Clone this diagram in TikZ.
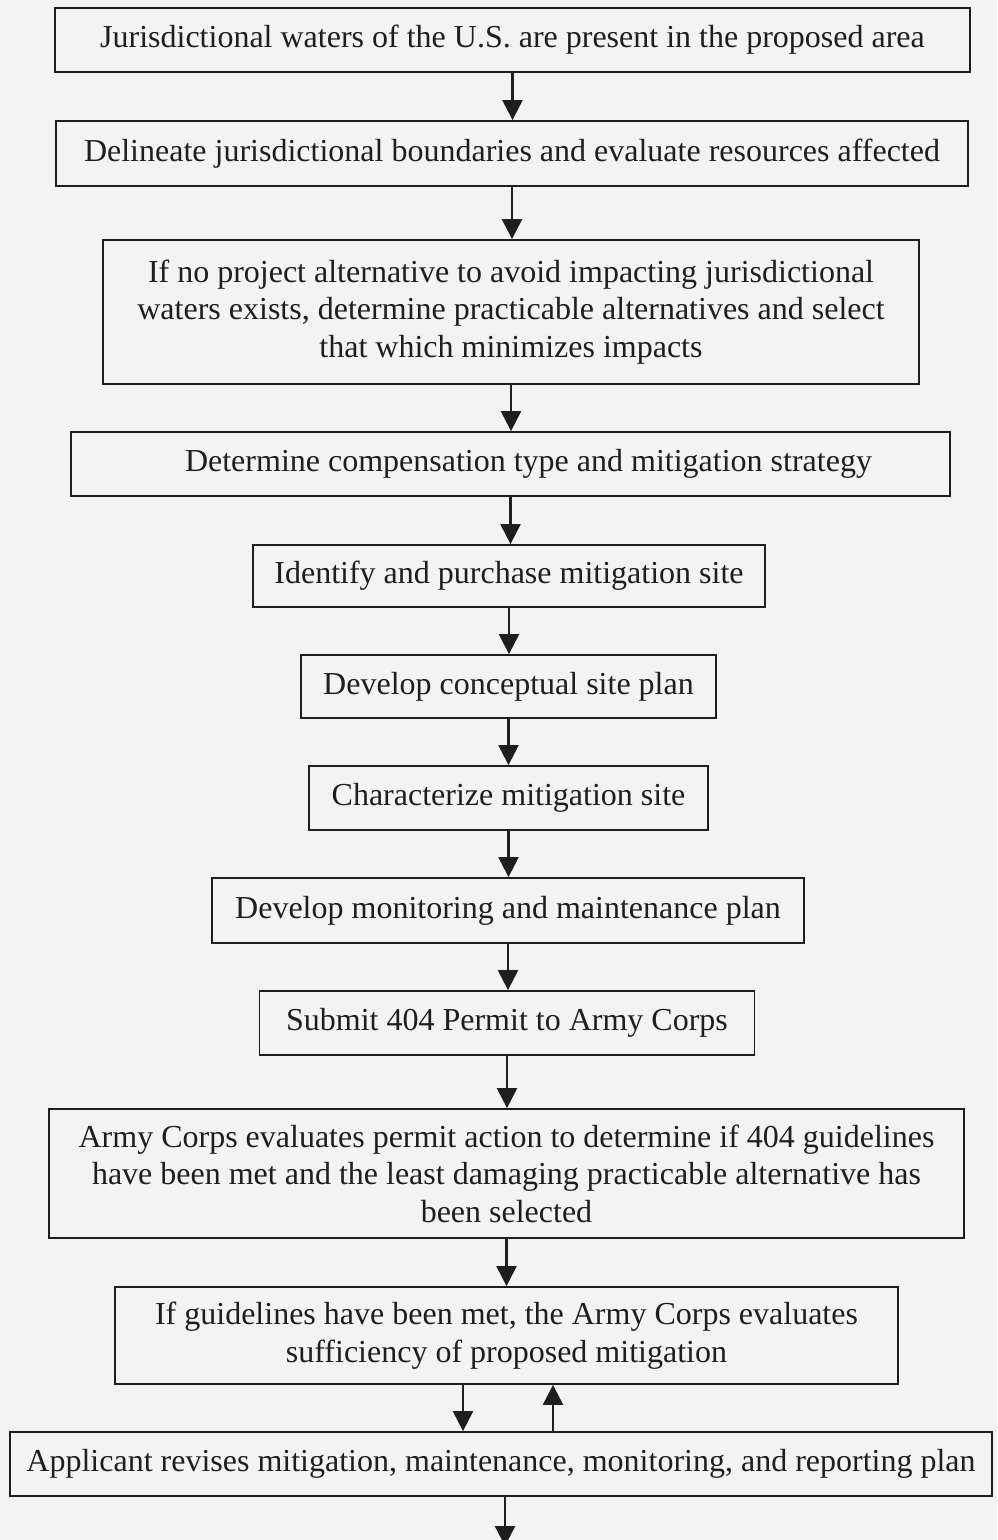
\documentclass[tikz,border=0pt]{standalone}
\usepackage{fontspec}
\setmainfont{Liberation Serif}
\usetikzlibrary{arrows.meta}
\definecolor{paper}{RGB}{243,243,243}
\definecolor{ink}{RGB}{30,30,30}
\begin{document}
\begin{tikzpicture}[x=1pt,y=-1pt,
  stepbox/.style={draw=ink,line width=1.8pt,inner sep=0pt,align=center,
    font=\fontsize{32}{37.5}\selectfont,text=ink},
  arr/.style={draw=ink,line width=2.2pt,-{Triangle[width=20pt,length=20pt]}}]
\fill[paper] (0,0) rectangle (997,1540);
\useasboundingbox (0,0) rectangle (997,1540);
\clip (0,0) rectangle (997,1540);
\node[stepbox,minimum width=915pt,minimum height=64pt] (n1) at (512.5,40)
  {Jurisdictional waters of the U.S. are present in the proposed area};
\node[stepbox,minimum width=912pt,minimum height=65pt] (n2) at (512,153.5)
  {Delineate jurisdictional boundaries and evaluate resources affected};
\node[stepbox,minimum width=816pt,minimum height=144pt] (n3) at (511,312)
  {If no project alternative to avoid impacting jurisdictional\\waters exists, determine practicable alternatives and select\\that which minimizes impacts};
\node[stepbox,minimum width=879pt,minimum height=64pt] (n4) at (510.5,464)
  {\hspace*{36pt}Determine compensation type and mitigation strategy};
\node[stepbox,minimum width=512pt,minimum height=62pt] (n5) at (509,576)
  {Identify and purchase mitigation site};
\node[stepbox,minimum width=415pt,minimum height=63pt] (n6) at (508.5,686.5)
  {Develop conceptual site plan};
\node[stepbox,minimum width=399pt,minimum height=64pt] (n7) at (508.5,798)
  {Characterize mitigation site};
\node[stepbox,minimum width=592pt,minimum height=65pt] (n8) at (508,910.5)
  {Develop monitoring and maintenance plan};
\node[stepbox,minimum width=495pt,minimum height=64pt] (n9) at (507,1023)
  {Submit 404 Permit to Army Corps};
\node[stepbox,minimum width=915pt,minimum height=129pt] (n10) at (506.5,1173.5)
  {Army Corps evaluates permit action to determine if 404 guidelines\\have been met and the least damaging practicable alternative has\\been selected};
\node[stepbox,minimum width=783pt,minimum height=97pt,
  font=\fontsize{32}{38.5}\selectfont] (n11) at (506.5,1335.5)
  {If guidelines have been met, the Army Corps evaluates\\sufficiency of proposed mitigation};
\node[stepbox,minimum width=982pt,minimum height=64pt] (n12) at (501,1464)
  {Applicant revises mitigation, maintenance, monitoring, and reporting plan};
\coordinate (end) at (505,1546);
\foreach \a/\b in {n1/n2,n2/n3,n3/n4,n4/n5,n5/n6,n6/n7,n7/n8,n8/n9,n9/n10,n10/n11}
  \draw[arr] (\a.south) -- (\a.south |- \b.north);
\draw[arr] ([xshift=-43.5pt]n11.south) -- ([xshift=-43.5pt]n11.south |- n12.north);
\draw[arr] ([xshift=46.5pt]n11.south |- n12.north) -- ([xshift=46.5pt]n11.south);
\draw[arr] ([xshift=4pt]n12.south) -- (end);
\end{tikzpicture}
\end{document}
